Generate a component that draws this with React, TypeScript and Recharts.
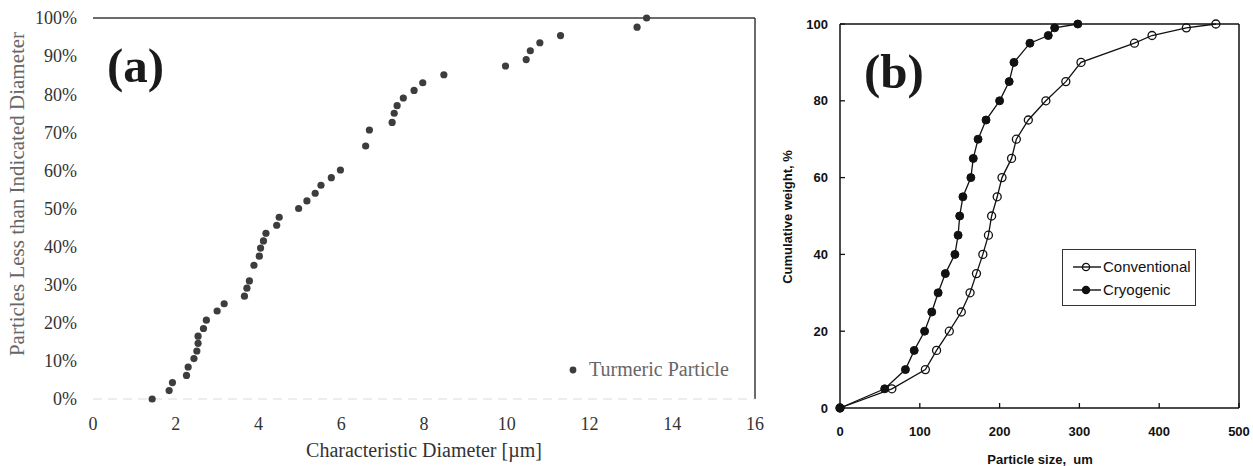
import React from "react";
import {
  ScatterChart,
  Scatter,
  LineChart,
  Line,
  XAxis,
  YAxis,
  ReferenceLine,
  Legend,
} from "recharts";

// (a) turmeric particle size distribution
const diameterUm = [
  1.43, 1.84, 1.92, 2.26, 2.3, 2.44, 2.51, 2.54, 2.54, 2.67, 2.74, 3.0, 3.17,
  3.66, 3.72, 3.78, 3.89, 4.02, 4.05, 4.12, 4.18, 4.44, 4.5, 4.97, 5.17, 5.37,
  5.51, 5.76, 5.98, 6.59, 6.68, 7.23, 7.28, 7.35, 7.5, 7.76, 7.97, 8.48, 9.97,
  10.47, 10.57, 10.8, 11.3, 13.15, 13.38,
];
const lessThanPct = [
  0, 2.2, 4.3, 6.2, 8.4, 10.6, 12.6, 14.6, 16.5, 18.5, 20.7, 23.1, 25.0, 27.0,
  29.1, 31.0, 35.1, 37.5, 39.6, 41.5, 43.5, 45.6, 47.7, 50.0, 52.0, 54.0, 56.1,
  58.1, 60.1, 66.4, 70.6, 72.6, 75.0, 77.0, 79.0, 81.0, 83.0, 85.1, 87.4, 89.1,
  91.4, 93.5, 95.4, 97.6, 100,
];
const diameterTicks = [0, 2, 4, 6, 8, 10, 12, 14, 16];
const pctTicksA = [0, 10, 20, 30, 40, 50, 60, 70, 80, 90, 100];

// (b) conventional vs cryogenic grinding
const cumulativePct = [0, 5, 10, 15, 20, 25, 30, 35, 40, 45, 50, 55, 60, 65, 70, 75, 80, 85, 90, 95, 97, 99, 100];
const conventionalSize = [
  0, 65, 107, 121, 137, 152, 163, 171, 179, 186, 190, 197, 203, 215, 221, 236,
  258, 283, 302, 369, 391, 434, 471,
];
const cryogenicSize = [
  0, 56, 82, 93, 106, 115, 123, 132, 144, 148, 150, 154, 164, 167, 173, 183,
  200, 212, 218, 238, 261, 269, 298,
];
const sizeTicks = [0, 100, 200, 300, 400, 500];
const weightTicks = [0, 20, 40, 60, 80, 100];

const turmeric = diameterUm.map((d, i) => ({ d, pct: lessThanPct[i] }));
const conventional = conventionalSize.map((size, i) => ({ size, pct: cumulativePct[i] }));
const cryogenic = cryogenicSize.map((size, i) => ({ size, pct: cumulativePct[i] }));

const SERIF = '"Liberation Serif", "Times New Roman", serif';
const SANS = '"Liberation Sans", Arial, sans-serif';

const Dot = (p: any) => <circle cx={p.cx} cy={p.cy} r={3.6} fill="#3d3d3d" />;

const LegendA = ({ payload }: any) => (
  <div style={{ display: "flex", alignItems: "center", fontFamily: SERIF, fontSize: 20, color: "#666" }}>
    {(payload || []).map((it: any) => (
      <React.Fragment key={it.value}>
        <svg width={16} height={10}>
          <circle cx={8} cy={5} r={3.4} fill="#3d3d3d" />
        </svg>
        <span style={{ marginLeft: 8, whiteSpace: "nowrap" }}>{it.value}</span>
      </React.Fragment>
    ))}
  </div>
);

const LegendB = ({ payload }: any) => (
  <div
    style={{
      border: "1.5px solid #333",
      width: 134,
      height: 57,
      boxSizing: "border-box",
      padding: "5px 0 0 9px",
      fontFamily: SANS,
      fontSize: 15,
      color: "#111",
    }}
  >
    {(payload || []).map((it: any) => (
      <div key={it.value} style={{ display: "flex", alignItems: "center", height: 23 }}>
        <svg width={30} height={12}>
          <line x1={1} y1={6} x2={29} y2={6} stroke="#111" strokeWidth={1.4} />
          <circle
            cx={14}
            cy={6}
            r={3.6}
            fill={it.value === "Cryogenic" ? "#111" : "none"}
            stroke="#111"
            strokeWidth={1.3}
          />
        </svg>
        <span style={{ marginLeft: 1 }}>{it.value}</span>
      </div>
    ))}
  </div>
);

const yLabelA = () => (
  <text
    x={17}
    y={194}
    transform="rotate(-90 17 194)"
    textAnchor="middle"
    dominantBaseline="central"
    fontFamily={SERIF}
    fontSize={21}
    fill="#666"
  >
    Particles Less than Indicated Diameter
  </text>
);

const xLabelA = () => (
  <text x={424} y={457} textAnchor="middle" fontFamily={SERIF} fontSize={20} fill="#333">
    Characteristic Diameter [µm]
  </text>
);

const yLabelB = () => (
  <text
    x={7}
    y={217}
    transform="rotate(-90 7 217)"
    textAnchor="middle"
    dominantBaseline="central"
    fontFamily={SANS}
    fontWeight="bold"
    fontSize={13}
    fill="#111"
  >
    Cumulative weight, %
  </text>
);

const xLabelB = () => (
  <text x={260} y={464} textAnchor="middle" fontFamily={SANS} fontWeight="bold" fontSize={13} fill="#111">
    {"Particle size,\u00a0 um"}
  </text>
);

export default function App() {
  const tickA = { fontFamily: SERIF, fontSize: 18, fill: "#333" };
  const tickB = { fontFamily: SANS, fontSize: 13, fontWeight: "bold", fill: "#111" };
  return (
    <div style={{ position: "absolute", left: 0, top: 0, width: 1253, height: 466, background: "#fff" }}>
      <div style={{ position: "absolute", left: 0, top: 0 }}>
        <ScatterChart width={780} height={466} margin={{ top: 18, right: 25, bottom: 0, left: 0 }}>
          <XAxis
            type="number"
            dataKey="d"
            domain={[0, 16]}
            ticks={diameterTicks}
            interval={0}
            height={67}
            tickLine={false}
            tickSize={0}
            tickMargin={18}
            tick={tickA}
            axisLine={{ stroke: "#dcdcdc", strokeDasharray: "9 6" }}
            label={xLabelA}
          />
          <YAxis
            type="number"
            dataKey="pct"
            domain={[0, 100]}
            ticks={pctTicksA}
            interval={0}
            width={93}
            tickLine={false}
            axisLine={false}
            tickSize={0}
            tickMargin={16}
            tick={tickA}
            tickFormatter={(v: number) => `${v}%`}
            label={yLabelA}
          />
          <ReferenceLine y={100} stroke="#3a3a3a" strokeWidth={1.5} />
          <ReferenceLine x={16} stroke="#3a3a3a" strokeWidth={1.5} />
          <Scatter name="Turmeric Particle" data={turmeric} shape={Dot} fill="#3d3d3d" isAnimationActive={false} />
          <Legend
            layout="horizontal"
            verticalAlign="middle"
            align="center"
            content={LegendA}
            wrapperStyle={{ left: 565, top: 358, width: 200, height: 30 }}
          />
        </ScatterChart>
      </div>
      <div style={{ position: "absolute", left: 780, top: 0 }}>
        <LineChart width={473} height={466} margin={{ top: 24, right: 14, bottom: 0, left: 0 }}>
          <XAxis
            type="number"
            dataKey="size"
            domain={[0, 500]}
            ticks={sizeTicks}
            interval={0}
            height={58}
            tickSize={-5}
            tickMargin={24}
            tick={tickB}
            tickLine={{ stroke: "#111", strokeWidth: 1.3 }}
            axisLine={{ stroke: "#111", strokeWidth: 1.5 }}
            label={xLabelB}
          />
          <YAxis
            type="number"
            dataKey="pct"
            domain={[0, 100]}
            ticks={weightTicks}
            interval={0}
            width={60}
            tickSize={-5}
            tickMargin={17}
            tick={tickB}
            tickLine={{ stroke: "#111", strokeWidth: 1.3 }}
            axisLine={{ stroke: "#111", strokeWidth: 1.5 }}
            label={yLabelB}
          />
          <ReferenceLine y={100} stroke="#111" strokeWidth={1.5} />
          <ReferenceLine x={500} stroke="#111" strokeWidth={1.5} />
          <Line
            name="Conventional"
            data={conventional}
            dataKey="pct"
            type="linear"
            stroke="#111"
            strokeWidth={1.3}
            dot={{ r: 4, fill: "none", stroke: "#111", strokeWidth: 1.3 }}
            isAnimationActive={false}
          />
          <Line
            name="Cryogenic"
            data={cryogenic}
            dataKey="pct"
            type="linear"
            stroke="#111"
            strokeWidth={1.3}
            dot={{ r: 4, fill: "#111", stroke: "#111", strokeWidth: 1 }}
            isAnimationActive={false}
          />
          <Legend
            layout="horizontal"
            verticalAlign="middle"
            align="center"
            content={LegendB}
            wrapperStyle={{ left: 282, top: 249, width: 134, height: 57 }}
          />
        </LineChart>
      </div>
      <svg
        width={1253}
        height={466}
        style={{ position: "absolute", left: 0, top: 0, pointerEvents: "none" }}
      >
        <text x={107} y={82} fontFamily={SERIF} fontWeight="bold" fontSize={49} fill="#1a1a1a">
          (a)
        </text>
        <text x={864} y={88} fontFamily={SERIF} fontWeight="bold" fontSize={49} fill="#1a1a1a">
          (b)
        </text>
      </svg>
    </div>
  );
}
